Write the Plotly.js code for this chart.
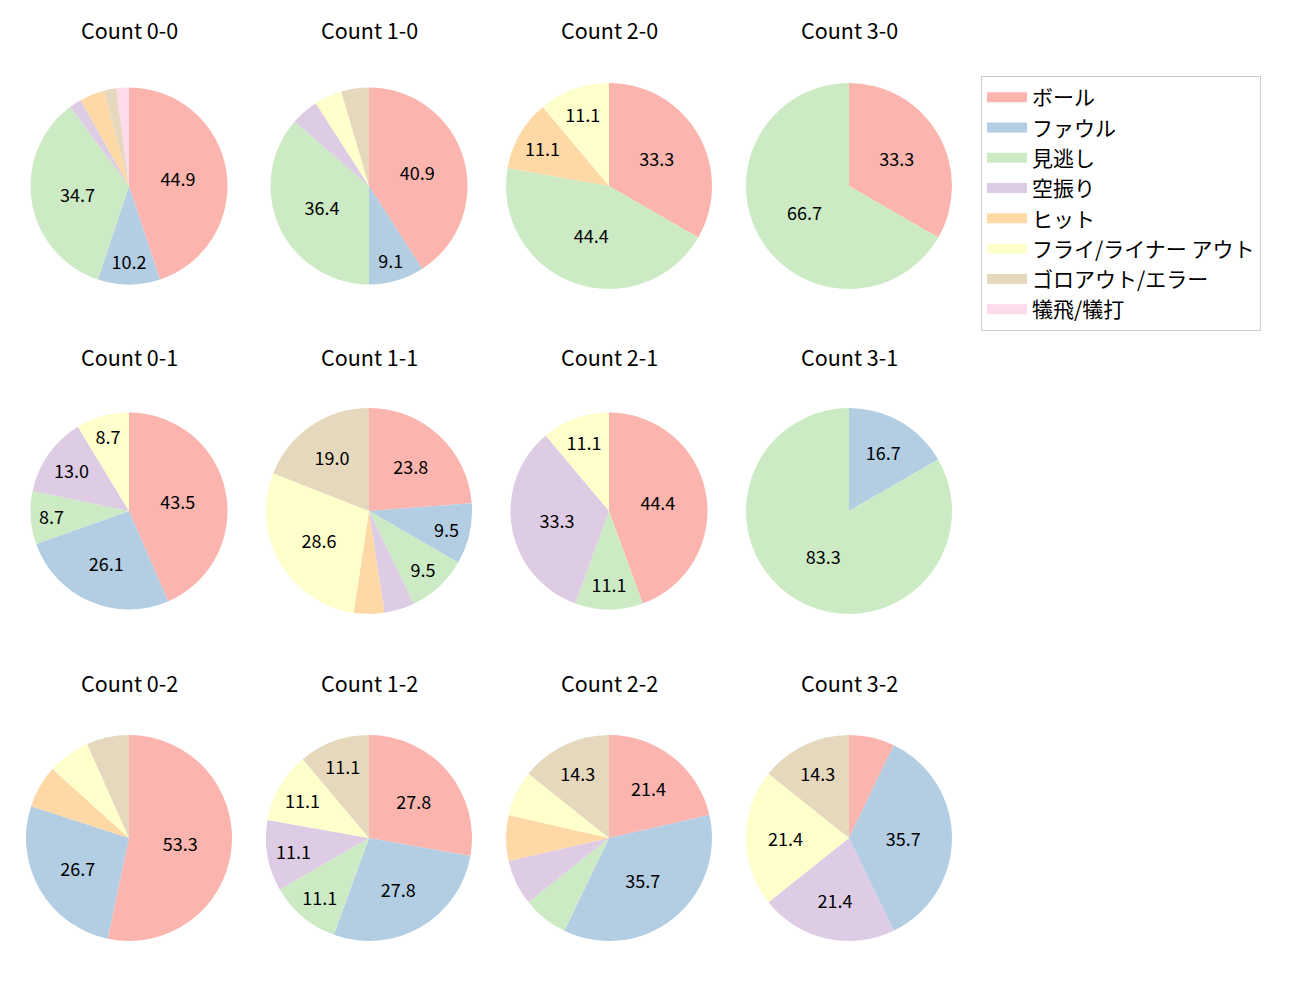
<!DOCTYPE html>
<html><head><meta charset="utf-8">
<script src="https://cdn.plot.ly/plotly-3.0.1.min.js"></script>
<style>body{margin:0;background:#fff}#chart{width:1300px;height:1000px}</style>
</head><body><div id="chart"></div>
<script>
const categories = ['ボール','ファウル','見逃し','空振り','ヒット','フライ/ライナー アウト','ゴロアウト/エラー','犠飛/犠打'];
const colors = ['#fbb4ae','#b3cde3','#ccebc5','#decbe4','#fed9a6','#ffffcc','#e5d8bd','#fddaec'];
const titles = ['Count 0-0','Count 1-0','Count 2-0','Count 3-0',
                'Count 0-1','Count 1-1','Count 2-1','Count 3-1',
                'Count 0-2','Count 1-2','Count 2-2','Count 3-2'];
const c00 = [22,5,17,1,2,0,1,1];
const c10 = [9,2,8,1,0,1,1,0];
const c20 = [3,0,4,0,1,1,0,0];
const c30 = [1,0,2,0,0,0,0,0];
const c01 = [10,6,2,3,0,2,0,0];
const c11 = [5,2,2,1,1,6,4,0];
const c21 = [4,0,1,3,0,1,0,0];
const c31 = [0,1,5,0,0,0,0,0];
const c02 = [8,4,0,0,1,1,1,0];
const c12 = [5,5,2,2,0,2,2,0];
const c22 = [3,5,1,1,1,1,2,0];
const c32 = [1,5,0,3,0,3,2,0];
const allValues = [c00,c10,c20,c30,c01,c11,c21,c31,c02,c12,c22,c32];

const W = 1300, H = 1000;
const colX = [129, 369, 609, 849];
const rowY = [186, 511, 838];
const titleY = [29, 356, 682];
const sizes = [197,197,206,206, 197,206,197,206, 206,206,206,206];
const FONT = '"Noto Sans CJK JP", "DejaVu Sans", sans-serif';

const traces = [];
const annotations = [];
allValues.forEach((vals, i) => {
  const r = Math.floor(i / 4), c = i % 4;
  const cx = colX[c], cy = rowY[r], s = sizes[i];
  const total = vals.reduce((a, b) => a + b, 0);
  const txt = vals.map(v => (v / total * 100 >= 8 ? (v / total * 100).toFixed(1) : ''));
  traces.push({
    type: 'pie',
    labels: categories,
    values: vals,
    text: txt,
    textinfo: 'text',
    textposition: 'inside',
    insidetextorientation: 'horizontal',
    textfont: {size: 18, color: '#000', family: FONT},
    marker: {colors: colors, line: {width: 0}},
    sort: false,
    direction: 'clockwise',
    rotation: 0,
    hoverinfo: 'label+percent',
    domain: {x: [(cx - s / 2) / W, (cx + s / 2) / W], y: [1 - (cy + s / 2) / H, 1 - (cy - s / 2) / H]},
    showlegend: false
  });
  annotations.push({
    text: titles[i], xref: 'paper', yref: 'paper',
    x: cx / W, y: 1 - titleY[r] / H, xanchor: 'center', yanchor: 'middle',
    showarrow: false, font: {size: 21.5, color: '#000', family: FONT}
  });
});

// legend entries (one per category, same colours as the slices)
categories.forEach((cat, k) => {
  traces.push({
    type: 'scatter', mode: 'lines', x: [null], y: [null],
    name: cat, line: {color: colors[k], width: 14},
    hoverinfo: 'skip', showlegend: true
  });
});

const layout = {
  width: W, height: H,
  margin: {l: 0, r: 0, t: 0, b: 0},
  paper_bgcolor: '#fff', plot_bgcolor: 'rgba(0,0,0,0)',
  font: {family: FONT},
  xaxis: {visible: false, showgrid: false, zeroline: false},
  yaxis: {visible: false, showgrid: false, zeroline: false},
  annotations: annotations,
  legend: {
    x: 981 / W, y: 1 - 76 / H, xanchor: 'left', yanchor: 'top',
    bordercolor: '#cccccc', borderwidth: 1, bgcolor: '#fff',
    font: {size: 21, color: '#000', family: FONT},
    traceorder: 'normal', itemwidth: 40
  }
};
Plotly.newPlot('chart', traces, layout, {displayModeBar: false});
</script></body></html>
